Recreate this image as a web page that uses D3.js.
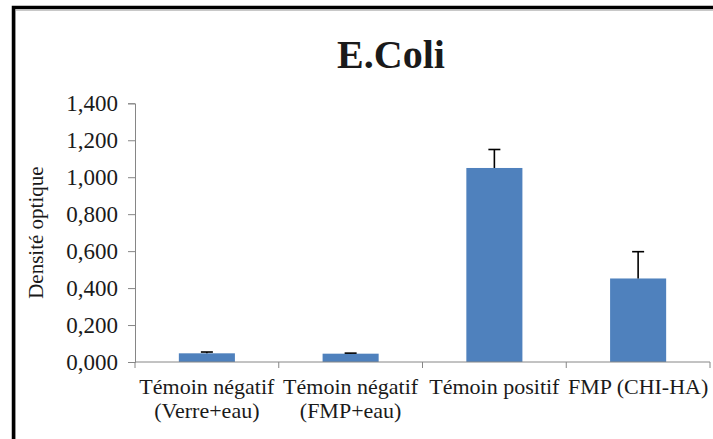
<!DOCTYPE html>
<html>
<head>
<meta charset="utf-8">
<script src="https://cdn.jsdelivr.net/npm/d3@7"></script>
<style>
  html, body { margin: 0; padding: 0; background: #fff; }
  svg { display: block; }
  text { font-family: "Liberation Serif", "Times New Roman", serif; fill: #1a1a1a; }
</style>
</head>
<body>
<svg id="chart" width="713" height="439"></svg>
<script>
// Optical density per sample (mean and upper error)
const categories = [
  ["Témoin négatif", "(Verre+eau)"],
  ["Témoin négatif", "(FMP+eau)"],
  ["Témoin positif"],
  ["FMP (CHI-HA)"]
];
const values = [0.047, 0.045, 1.050, 0.452];
const errors = [0.007, 0.003, 0.100, 0.145];
const yTicks = [0, 0.2, 0.4, 0.6, 0.8, 1.0, 1.2, 1.4];
const yTickLabels = ["0,000", "0,200", "0,400", "0,600", "0,800", "1,000", "1,200", "1,400"];
const title = "E.Coli";
const yTitle = "Densité optique";

const svg = d3.select("#chart");
const W = 713, H = 439;
const plot = { left: 135, right: 710, top: 103.3, bottom: 362 };

svg.append("rect").attr("width", W).attr("height", H).attr("fill", "#fff");

// Frame around the chart
svg.append("rect")
  .attr("x", 15.5).attr("y", 10.5)
  .attr("width", W).attr("height", H)
  .attr("fill", "none").attr("stroke", "#c8c8c8").attr("stroke-width", 1);
svg.append("rect")
  .attr("x", 13.5).attr("y", 7.5)
  .attr("width", W).attr("height", H)
  .attr("fill", "none").attr("stroke", "#000").attr("stroke-width", 3.5);

const idx = categories.map((d, i) => i);
const x = d3.scaleBand()
  .domain(idx)
  .range([plot.left, plot.right])
  .paddingInner(0.61)
  .paddingOuter(0.305);

const y = d3.scaleLinear()
  .domain([0, 1.4])
  .range([plot.bottom, plot.top]);

// Y axis
const yAxis = d3.axisLeft(y)
  .tickValues(yTicks)
  .tickFormat((d, i) => yTickLabels[i])
  .tickSize(7)
  .tickPadding(10);
const gy = svg.append("g")
  .attr("transform", `translate(${plot.left},0)`)
  .call(yAxis);
gy.select(".domain").attr("stroke", "#868686").attr("stroke-width", 1);
gy.selectAll(".tick line").attr("stroke", "#868686");
gy.selectAll(".tick text")
  .attr("font-size", 23).attr("fill", "#1a1a1a");

// Bars
svg.append("g").selectAll("rect")
  .data(values)
  .join("rect")
  .attr("x", (d, i) => x(i))
  .attr("y", d => y(d))
  .attr("width", x.bandwidth())
  .attr("height", d => y(0) - y(d))
  .attr("fill", "#4f81bd");

// Upper error bars
const eb = svg.append("g").attr("stroke", "#000").attr("stroke-width", 1.6);
values.forEach((v, i) => {
  const cx = x(i) + x.bandwidth() / 2;
  eb.append("line")
    .attr("x1", cx).attr("x2", cx)
    .attr("y1", y(v)).attr("y2", y(v + errors[i]));
  eb.append("line")
    .attr("x1", cx - 6).attr("x2", cx + 6)
    .attr("y1", y(v + errors[i])).attr("y2", y(v + errors[i]));
});

// X axis with ticks between categories
const gx = svg.append("g");
gx.append("line")
  .attr("x1", plot.left).attr("x2", plot.right)
  .attr("y1", y(0)).attr("y2", y(0))
  .attr("stroke", "#868686");
const step = x.step();
d3.range(categories.length + 1).forEach(k => {
  const tx = plot.left + k * step;
  gx.append("line")
    .attr("x1", tx).attr("x2", tx)
    .attr("y1", y(0)).attr("y2", y(0) + 6)
    .attr("stroke", "#868686");
});

// Category labels
const labels = svg.append("g")
  .attr("font-size", 22)
  .attr("text-anchor", "middle");
categories.forEach((lines, i) => {
  const cx = x(i) + x.bandwidth() / 2;
  const t = labels.append("text").attr("x", cx).attr("y", 394);
  lines.forEach((ln, j) => {
    t.append("tspan").attr("x", cx).attr("dy", j === 0 ? 0 : 24).text(ln);
  });
});

// Axis title
svg.append("text")
  .attr("transform", `translate(43,${(plot.top + plot.bottom) / 2}) rotate(-90)`)
  .attr("text-anchor", "middle")
  .attr("font-size", 21)
  .text(yTitle);

// Chart title
svg.append("text")
  .attr("x", 391).attr("y", 68)
  .attr("text-anchor", "middle")
  .attr("font-size", 40)
  .attr("font-weight", "bold")
  .attr("fill", "#000")
  .text(title);
</script>
</body>
</html>
